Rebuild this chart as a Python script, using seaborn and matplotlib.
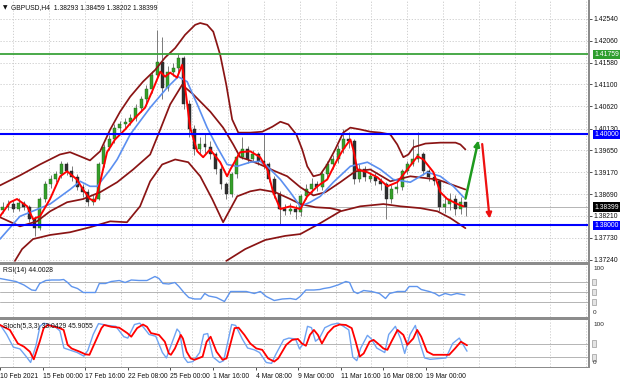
import matplotlib
matplotlib.use("Agg")
import matplotlib.pyplot as plt
import matplotlib.transforms as mtransforms
from matplotlib.patches import Rectangle
import numpy as np
import pandas as pd
import seaborn as sns

sns.set_theme(style="white")
plt.rcParams["font.family"] = ["Liberation Sans", "DejaVu Sans"]

# ---------------- data ----------------
title_text = "GBPUSD,H4  1.38293 1.38459 1.38202 1.38399"
rsi_title = "RSI(14) 44.0028"
stoch_title = "Stoch(5,3,3) 33.0429 45.9055"

date_labels = ["10 Feb 2021", "15 Feb 00:00", "17 Feb 16:00", "22 Feb 08:00", "25 Feb 00:00",
               "1 Mar 16:00", "4 Mar 08:00", "9 Mar 00:00", "11 Mar 16:00", "16 Mar 08:00",
               "19 Mar 00:00"]
date_bars = [0, 16, 32, 48, 64, 80, 96, 112, 128, 144, 160]

price_ticks = [1.42540, 1.42060, 1.41580, 1.41100, 1.40620, 1.40130, 1.39650, 1.39170,
               1.38690, 1.38210, 1.37730, 1.37240]
price_tick_labels = ["1.42540", "1.42060", "1.41580", "1.41100", "1.40620", "1.40130",
                     "1.39650", "1.39170", "1.38690", "1.38210", "1.37730", "1.37240"]

# candles (each one = two H4 bars)
opens = [1.3835, 1.3840, 1.3847, 1.3836, 1.3849, 1.3840, 1.3814, 1.3795, 1.3858, 1.3890,
         1.3901, 1.3912, 1.3934, 1.3919, 1.3906, 1.3884, 1.3873, 1.3851, 1.3858, 1.3934,
         1.3972, 1.3989, 1.4015, 1.4022, 1.4028, 1.4037, 1.4059, 1.4077, 1.4099, 1.4131,
         1.4160, 1.4103, 1.4138, 1.4147, 1.4169, 1.4066, 1.4011, 1.3967, 1.3978, 1.3972,
         1.3956, 1.3923, 1.3890, 1.3869, 1.3912, 1.3950, 1.3967, 1.3945, 1.3956, 1.3941,
         1.3934, 1.3901, 1.3869, 1.3836, 1.3831, 1.3836, 1.3829, 1.3865, 1.3880, 1.3890,
         1.3884, 1.3912, 1.3934, 1.3945, 1.3967, 1.3989, 1.3985, 1.3901, 1.3923, 1.3902,
         1.3906, 1.3897, 1.3890, 1.3858, 1.3880, 1.3884, 1.3919, 1.3934, 1.3945, 1.3956,
         1.3919, 1.3906, 1.3897, 1.3840, 1.3847, 1.3858, 1.3836, 1.3851]
closes = [1.3840, 1.3847, 1.3836, 1.3849, 1.3840, 1.3814, 1.3795, 1.3858, 1.3890, 1.3901,
          1.3912, 1.3934, 1.3919, 1.3906, 1.3884, 1.3873, 1.3851, 1.3858, 1.3934, 1.3972,
          1.3989, 1.4015, 1.4022, 1.4028, 1.4037, 1.4059, 1.4077, 1.4099, 1.4131, 1.4160,
          1.4103, 1.4138, 1.4147, 1.4169, 1.4066, 1.4011, 1.3967, 1.3978, 1.3972, 1.3956,
          1.3923, 1.3890, 1.3869, 1.3912, 1.3950, 1.3967, 1.3945, 1.3956, 1.3941, 1.3934,
          1.3901, 1.3869, 1.3836, 1.3831, 1.3836, 1.3829, 1.3865, 1.3880, 1.3890, 1.3884,
          1.3912, 1.3934, 1.3945, 1.3967, 1.3989, 1.3985, 1.3901, 1.3923, 1.3906, 1.3908,
          1.3897, 1.3890, 1.3858, 1.3880, 1.3884, 1.3919, 1.3934, 1.3945, 1.3956, 1.3919,
          1.3906, 1.3897, 1.3840, 1.3847, 1.3858, 1.3836, 1.3851, 1.3840]
highs = [1.3852, 1.3856, 1.3855, 1.3860, 1.3854, 1.3845, 1.3820, 1.3862, 1.3898, 1.3910,
         1.3920, 1.3942, 1.3940, 1.3930, 1.3912, 1.3892, 1.3880, 1.3866, 1.3940, 1.3980,
         1.3998, 1.4022, 1.4030, 1.4036, 1.4045, 1.4066, 1.4085, 1.4108, 1.4140, 1.4230,
         1.4215, 1.4150, 1.4158, 1.4176, 1.4172, 1.4075, 1.4020, 1.3995, 1.4000, 1.3985,
         1.3962, 1.3930, 1.3895, 1.3918, 1.3958, 1.3995, 1.3975, 1.3965, 1.3962, 1.4003,
         1.3940, 1.3908, 1.3875, 1.3848, 1.3850, 1.3845, 1.3870, 1.3890, 1.3905, 1.3898,
         1.3920, 1.3942, 1.3955, 1.3976, 1.4011, 1.4005, 1.3990, 1.3935, 1.3930, 1.3918,
         1.3915, 1.3905, 1.3895, 1.3888, 1.3895, 1.3925, 1.3942, 1.3990, 1.4005, 1.3962,
         1.3925, 1.3915, 1.3900, 1.3862, 1.3872, 1.3866, 1.3862, 1.3846]
lows = [1.3828, 1.3833, 1.3830, 1.3832, 1.3835, 1.3808, 1.3777, 1.3790, 1.3852, 1.3882,
        1.3895, 1.3905, 1.3910, 1.3898, 1.3878, 1.3862, 1.3842, 1.3845, 1.3855, 1.3928,
        1.3965, 1.3982, 1.4005, 1.4012, 1.4020, 1.4030, 1.4050, 1.4070, 1.4092, 1.4125,
        1.4077, 1.4095, 1.4128, 1.4135, 1.4055, 1.3995, 1.3955, 1.3958, 1.3960, 1.3945,
        1.3912, 1.3880, 1.3858, 1.3862, 1.3905, 1.3945, 1.3938, 1.3940, 1.3932, 1.3925,
        1.3895, 1.3860, 1.3800, 1.3822, 1.3825, 1.3815, 1.3820, 1.3858, 1.3872, 1.3875,
        1.3878, 1.3905, 1.3925, 1.3938, 1.3960, 1.3970, 1.3890, 1.3895, 1.3898, 1.3895,
        1.3888, 1.3878, 1.3814, 1.3850, 1.3872, 1.3878, 1.3912, 1.3930, 1.3940, 1.3910,
        1.3898, 1.3888, 1.3832, 1.3828, 1.3835, 1.3822, 1.3826, 1.3820]

# indicator lines on the price chart (x = H4 bar number)
ma_fast_x = [0, 3.8, 6.4, 10.2, 12.4, 15.0, 18.8, 22.6, 25.2, 28.9, 31.2, 33.8, 35.7, 37.6,
             40.2, 43.2, 47.0, 50.8, 54.5, 57.1, 60.2, 62.0, 63.9, 66.5, 68.4, 69.5, 71.4,
             74.1, 76.3, 78.9, 82.7, 85.3, 86.5, 90.2, 94.0, 97.7, 100.4, 102.6, 105.3,
             109.0, 112.8, 115.4, 119.2, 122.9, 126.7, 128.9, 131.6, 132.7, 134.2, 138.0,
             141.7, 145.5, 149.2, 153.0, 156.8, 159.0, 162.8, 165.4, 168.0, 171.8, 174.1]
ma_fast_y = [1.3820, 1.3851, 1.3858, 1.3842, 1.3814, 1.3820, 1.3858, 1.3908, 1.3919, 1.3901,
             1.3879, 1.3858, 1.3853, 1.3895, 1.3961, 1.3989, 1.4011, 1.4037, 1.4059, 1.4094,
             1.4138, 1.4127, 1.4136, 1.4125, 1.4153, 1.4105, 1.4015, 1.3963, 1.3950, 1.3967,
             1.3939, 1.3908, 1.3923, 1.3961, 1.3963, 1.3950, 1.3923, 1.3873, 1.3836, 1.3842,
             1.3836, 1.3864, 1.3886, 1.3901, 1.3945, 1.3967, 1.3989, 1.3967, 1.3923, 1.3917,
             1.3906, 1.3886, 1.3895, 1.3923, 1.3952, 1.3945, 1.3917, 1.3873, 1.3858, 1.3847,
             1.3842]
ma_slow_x = [0, 7.5, 11.3, 18.8, 26.3, 30.1, 33.8, 36.5, 41.4, 44.0, 48.9, 56.4, 62.8, 66.9,
             70.3, 74.1, 77.8, 81.6, 85.3, 89.1, 94.0, 97.7, 100.4, 105.3, 109.0, 112.8,
             116.5, 120.3, 125.2, 131.6, 138.0, 142.9, 147.7, 154.1, 160.5, 165.4, 170.3, 174.1]
ma_slow_y = [1.3770, 1.3820, 1.3829, 1.3847, 1.3879, 1.3897, 1.3886, 1.3886, 1.3923, 1.3945,
             1.4000, 1.4059, 1.4103, 1.4127, 1.4116, 1.4066, 1.4015, 1.3972, 1.3934, 1.3930,
             1.3939, 1.3941, 1.3930, 1.3901, 1.3873, 1.3842, 1.3851, 1.3864, 1.3895, 1.3930,
             1.3939, 1.3923, 1.3901, 1.3895, 1.3917, 1.3908, 1.3886, 1.3862]

band1_x = [0, 7.5, 15.0, 22.5, 26.3, 30.1, 33.8, 37.6, 41.4, 45.1, 48.9, 53.7, 58.3, 62.0,
           65.8, 69.5, 73.3, 75.2, 77.8, 80.1, 82.7, 85.0, 87.2, 89.5, 94.0, 98.5, 102.3,
           105.3, 108.3, 111.3, 113.5, 115.4, 117.7, 120.3, 122.9, 125.9, 128.9, 131.6,
           135.3, 139.1, 142.9, 146.6, 149.2, 151.5, 153.4, 155.3, 159.8, 165.4, 171.1,
           172.9, 174.8]
band1_y = [1.3888, 1.3910, 1.3934, 1.3956, 1.3961, 1.3952, 1.3943, 1.3963, 1.4011, 1.4050,
           1.4083, 1.4116, 1.4142, 1.4169, 1.4190, 1.4219, 1.4241, 1.4245, 1.4241, 1.4226,
           1.4175, 1.4109, 1.4033, 1.4004, 1.4004, 1.4006, 1.4017, 1.4028, 1.4022, 1.4000,
           1.3967, 1.3930, 1.3908, 1.3912, 1.3934, 1.3967, 1.4004, 1.4015, 1.4011, 1.4006,
           1.4004, 1.4000, 1.3978, 1.3950, 1.3956, 1.3972, 1.3980, 1.3982, 1.3982, 1.3978,
           1.3967]
band2_x = [0, 7.5, 13.9, 18.8, 25.2, 31.2, 37.6, 44.0, 50.0, 56.4, 60.2, 63.9, 68.4, 72.6,
           79.0, 83.8, 87.6, 90.2, 92.9, 97.7, 103.4, 107.9, 112.8, 117.7, 122.2, 127.8,
           133.5, 139.1, 146.6, 154.1, 164.3, 174.8]
band2_y = [1.3818, 1.3798, 1.3809, 1.3831, 1.3851, 1.3858, 1.3873, 1.3895, 1.3923, 1.3956,
           1.4011, 1.4066, 1.4109, 1.4088, 1.4050, 1.4015, 1.3978, 1.3950, 1.3945, 1.3934,
           1.3919, 1.3908, 1.3884, 1.3866, 1.3873, 1.3895, 1.3919, 1.3923, 1.3897, 1.3908,
           1.3901, 1.3879]
band3_x = [5.6, 8.3, 12.4, 18.8, 26.3, 33.8, 41.4, 47.7, 52.6, 56.4, 60.9, 65.8, 70.7, 75.2,
           79.7, 83.8, 86.5, 89.1, 94.0, 97.7, 103.4, 109.0, 112.8, 118.4, 124.0, 127.8]
band3_y = [1.3722, 1.3748, 1.3770, 1.3779, 1.3785, 1.3796, 1.3809, 1.3807, 1.3842, 1.3897,
           1.3934, 1.3945, 1.3939, 1.3908, 1.3858, 1.3807, 1.3836, 1.3864, 1.3875, 1.3879,
           1.3873, 1.3858, 1.3847, 1.3840, 1.3838, 1.3833]
band4_x = [85.0, 92.1, 99.6, 107.1, 112.8, 120.3, 127.8, 135.3, 144.0, 150.4, 157.9, 164.3,
           169.2, 174.8]
band4_y = [1.3722, 1.3748, 1.3768, 1.3777, 1.3781, 1.3805, 1.3831, 1.3842, 1.3847, 1.3842,
           1.3838, 1.3831, 1.3816, 1.3794]

# RSI(14)
rsi_x = [0, 3.0, 6.0, 9.0, 11.9, 13.4, 14.9, 17.2, 19.4, 22.4, 23.9, 25.4, 26.9, 29.1, 31.3,
         33.6, 35.8, 37.3, 39.6, 41.8, 44.8, 47.0, 49.3, 52.2, 55.2, 58.2, 59.7, 61.2, 63.4,
         65.7, 67.2, 69.4, 70.9, 73.1, 75.4, 76.9, 78.4, 81.3, 84.3, 86.6, 89.6, 92.5, 95.5,
         97.8, 100.0, 103.0, 106.0, 109.0, 111.2, 112.7, 114.9, 117.9, 120.1, 121.6, 123.9,
         126.9, 129.9, 131.3, 132.8, 134.3, 136.6, 139.6, 142.5, 144.8, 146.3, 149.3, 152.2,
         153.7, 156.7, 158.2, 161.2, 163.4, 164.9, 167.2, 169.4, 171.6, 174.6]
rsi_v = [77, 74, 71, 64, 54, 53, 67, 73, 74, 74, 75, 69, 61, 57, 49, 49, 49, 67, 67, 71,
         73, 69, 74, 73, 73, 81, 77, 67, 66, 69, 61, 47, 39, 36, 36, 47, 42, 39, 31, 51,
         51, 51, 47, 51, 41, 33, 36, 37, 35, 41, 54, 54, 55, 57, 59, 64, 71, 69, 51, 47,
         53, 51, 47, 37, 47, 51, 51, 61, 61, 55, 51, 47, 42, 47, 44, 47, 44]
rsi_levels = [70, 50, 30]

# Stochastic(5,3,3)
st_sig_x = [0, 3.7, 6.7, 9.0, 11.2, 12.7, 14.9, 16.4, 17.9, 22.4, 23.9, 25.4, 26.9, 29.9,
            32.1, 33.6, 35.8, 38.1, 39.1, 41.8, 44.8, 47.8, 49.3, 51.5, 53.7, 55.2, 56.7,
            59.7, 61.9, 63.4, 64.2, 65.7, 67.9, 68.7, 70.1, 71.6, 73.1, 76.1, 77.6, 79.1,
            81.3, 83.6, 85.1, 88.1, 89.6, 91.8, 94.0, 96.3, 98.5, 100.7, 103.0, 104.5,
            107.5, 109.7, 111.9, 113.4, 114.9, 116.4, 117.9, 119.4, 120.9, 123.1, 125.4,
            127.6, 129.9, 132.1, 133.6, 135.1, 136.6, 138.8, 140.3, 142.5, 144.0, 145.5,
            147.0, 149.3, 151.5, 153.0, 155.2, 156.7, 158.2, 160.4, 162.7, 168.7, 170.9,
            173.1, 175.4]
st_sig_v = [91, 80, 50, 43, 32, 15, 54, 84, 91, 84, 80, 47, 39, 32, 26, 25, 54, 84, 91, 87,
            85, 73, 65, 84, 92, 87, 73, 69, 54, 28, 25, 39, 69, 61, 32, 17, 14, 21, 54, 65,
            32, 14, 17, 84, 85, 69, 50, 39, 36, 17, 10, 17, 47, 58, 60, 50, 45, 69, 80, 69,
            50, 73, 87, 92, 91, 84, 54, 21, 28, 54, 58, 47, 39, 36, 54, 80, 69, 47, 61, 80,
            65, 32, 25, 25, 39, 54, 46]
st_main_x = [0, 2.5, 5.0, 7.5, 10.0, 11.5, 13.5, 15.0, 16.5, 20.5, 22.5, 24.0, 26.0, 29.0,
             31.5, 33.0, 35.0, 37.0, 40.5, 43.5, 46.5, 48.0, 50.5, 52.5, 54.0, 56.0, 58.5,
             61.0, 62.5, 64.5, 66.5, 67.5, 69.0, 70.5, 72.5, 75.0, 76.5, 78.0, 80.0, 82.5,
             84.0, 87.0, 88.5, 91.0, 93.0, 95.5, 97.5, 100.0, 102.0, 103.5, 106.5, 108.5,
             111.0, 112.5, 114.0, 115.5, 117.0, 118.5, 120.0, 122.0, 124.5, 127.0, 129.0,
             131.0, 132.5, 134.0, 135.5, 138.0, 139.5, 141.5, 143.0, 144.5, 146.0, 148.5,
             150.5, 152.0, 154.0, 156.0, 157.5, 159.5, 161.5, 167.5, 170.0, 172.5, 175.4]
st_main_v = [92, 70, 42, 38, 20, 8, 45, 88, 95, 88, 78, 40, 36, 30, 22, 35, 70, 94, 90, 88,
             65, 62, 92, 95, 85, 70, 66, 30, 18, 50, 82, 75, 20, 8, 10, 30, 70, 72, 20, 8,
             12, 92, 90, 60, 40, 36, 30, 8, 6, 25, 58, 62, 60, 38, 50, 88, 85, 55, 62, 85,
             92, 95, 88, 80, 20, 12, 40, 68, 60, 40, 35, 30, 70, 88, 60, 28, 70, 90, 55, 18,
             15, 18, 50, 62, 33]
st_levels = [50, 20]

green_level = 1.41759
blue_levels = [1.40000, 1.38000]
bid_price = 1.38399
arrow_up = [(174.6, 1.3853), (179.9, 1.3993)]
arrow_down = [(181.0, 1.3985), (184.0, 1.3809)]

# ---------------- layout ----------------
W, H = 620, 382
FS = 4.9
fig = plt.figure(figsize=(W / 100, H / 100), dpi=100)
fig.patch.set_facecolor("white")


def px_axes(left, top, right, bottom):
    return fig.add_axes([left / W, 1 - bottom / H, (right - left) / W, (bottom - top) / H])


def fig_txt(x, y, s, **kw):
    fig.text(x / W, 1 - y / H, s, **kw)


ax = px_axes(0, 0, 589, 262)
ax_r = px_axes(0, 265, 589, 317)
ax_s = px_axes(0, 320, 589, 367)

XMAX = 589 / 2.6625
for a in (ax, ax_r, ax_s):
    a.set_facecolor("white")
    a.set_xlim(0, XMAX)
    for s in a.spines.values():
        s.set_visible(False)
    a.tick_params(left=False, labelleft=False, bottom=False, labelbottom=False)
    for gx in np.arange(5.0, XMAX, 13.45):
        a.axvline(gx, color="#c8c8c8", lw=0.6, ls=(0, (1.5, 2.0)), zorder=0)

ax.set_ylim(1.37196, 1.42956)
ax_r.set_ylim(0, 104)
ax_s.set_ylim(-2, 102)

for p in price_ticks:
    ax.axhline(p, color="#c8c8c8", lw=0.6, ls=(0, (1.5, 2.0)), zorder=0)
ax.yaxis.tick_right()
ax.set_yticks(price_ticks)
ax.set_yticklabels(price_tick_labels)
ax.tick_params(axis="y", right=True, labelright=True, length=2.5, width=0.6, color="#333333",
               labelsize=FS, pad=1, labelcolor="#111111")

# candles
xs = np.arange(len(closes)) * 2 + 1
df = pd.DataFrame({"x": xs, "o": opens, "h": highs, "l": lows, "c": closes})
ax.vlines(df["x"], df["l"], df["h"], color="#7a7a7a", lw=0.7, zorder=2)
bull = df["c"] >= df["o"]
body_lo = np.minimum(df["o"], df["c"])
body_h = np.maximum(np.abs(df["c"] - df["o"]), 0.00008)
ax.bar(df["x"][bull], body_h[bull], bottom=body_lo[bull], width=1.1, color="#35a02a",
       edgecolor="#1e5e18", lw=0.3, zorder=3)
ax.bar(df["x"][~bull], body_h[~bull], bottom=body_lo[~bull], width=1.1, color="#303030",
       edgecolor="#202020", lw=0.3, zorder=3)


def line(a, x, y, color, lw, z=4):
    sns.lineplot(x=x, y=y, ax=a, color=color, lw=lw, estimator=None, sort=False,
                 legend=False, zorder=z)


DR = "#8a1414"
line(ax, band1_x, band1_y, DR, 1.25)
line(ax, band2_x, band2_y, DR, 1.25)
line(ax, band3_x, band3_y, DR, 1.25)
line(ax, band4_x, band4_y, DR, 1.25)
line(ax, ma_slow_x, ma_slow_y, "#5b8ff0", 1.2)
line(ax, ma_fast_x, ma_fast_y, "#ff0000", 1.4)

ax.axhline(green_level, color="#3aa33a", lw=1.3, zorder=5)
for b in blue_levels:
    ax.axhline(b, color="#0000ff", lw=1.5, zorder=5)
ax.axhline(bid_price, color="#a8a8a8", lw=0.6, zorder=1)

ax.annotate("", xy=arrow_up[1], xytext=arrow_up[0],
            arrowprops=dict(arrowstyle="-|>", color="#1e9a1e", lw=1.8, mutation_scale=8),
            zorder=6)
ax.annotate("", xy=arrow_down[1], xytext=arrow_down[0],
            arrowprops=dict(arrowstyle="-|>", color="#ee1111", lw=1.6, mutation_scale=8),
            zorder=6)

trans = mtransforms.blended_transform_factory(ax.transAxes, ax.transData)
for val, txt, bg in [(green_level, "1.41759", "#2e9e2e"), (blue_levels[0], "1.40000", "#0000ff"),
                     (blue_levels[1], "1.38000", "#0000ff"), (bid_price, "1.38399", "#000000")]:
    ax.text(1.0085, val, txt, transform=trans, ha="left", va="center", fontsize=FS,
            color="white", clip_on=False, zorder=10,
            bbox=dict(boxstyle="square,pad=0.2", facecolor=bg, edgecolor="none"))

# RSI
for lv in rsi_levels:
    ax_r.axhline(lv, color="#b4b4b4", lw=0.7, zorder=1)
line(ax_r, rsi_x, rsi_v, "#5f95ee", 1.0)
fig_txt(3, 270, rsi_title, fontsize=FS, va="center", color="#111111")

# Stochastic
for lv in st_levels:
    ax_s.axhline(lv, color="#b4b4b4", lw=0.7, zorder=1)
line(ax_s, st_main_x, st_main_v, "#6fa3f2", 1.0)
line(ax_s, st_sig_x, st_sig_v, "#ff0000", 1.3)
fig_txt(3, 326, stoch_title, fontsize=FS, va="center", color="#111111", zorder=0)

fig_txt(593, 269, "100", fontsize=FS - 0.3, va="center", ha="left")
fig_txt(593, 313, "0", fontsize=FS - 0.3, va="center", ha="left")
fig_txt(593, 325, "100", fontsize=FS - 0.3, va="center", ha="left")
fig_txt(593, 362, "0", fontsize=FS - 0.3, va="center", ha="left")
for a, lvls in [(ax_r, rsi_levels), (ax_s, st_levels)]:
    tr = mtransforms.blended_transform_factory(a.transAxes, a.transData)
    for lv in lvls:
        a.text(1.006, lv, "  ", transform=tr, fontsize=3.5, va="center", ha="left", clip_on=False,
               bbox=dict(boxstyle="square,pad=0.2", facecolor="#e4e4e4", edgecolor="#9a9a9a", lw=0.5))

ax_s.set_xticks(date_bars)
ax_s.set_xticklabels(date_labels)
ax_s.tick_params(axis="x", bottom=True, labelbottom=True, length=2.5, width=0.6, color="#333333",
                 labelsize=FS, pad=1.5, labelcolor="#111111")
for lab in ax_s.get_xticklabels():
    lab.set_ha("left")

for (x0, y0, w, h) in [(0, 262, 590, 3), (0, 317, 590, 3), (588, 0, 2, 367), (0, 366.5, 590, 1)]:
    fig.patches.append(Rectangle((x0 / W, 1 - (y0 + h) / H), w / W, h / H, transform=fig.transFigure,
                                 facecolor="#8c8c8c", edgecolor="none", zorder=20))

fig_txt(3, 8, "\u25BC", fontsize=4.2, va="center", ha="left", color="#111111",
        family=["DejaVu Sans"])
fig_txt(11, 8, title_text, fontsize=FS, va="center", ha="left", color="#111111")

fig.savefig("out.png", dpi=100, facecolor="white")
